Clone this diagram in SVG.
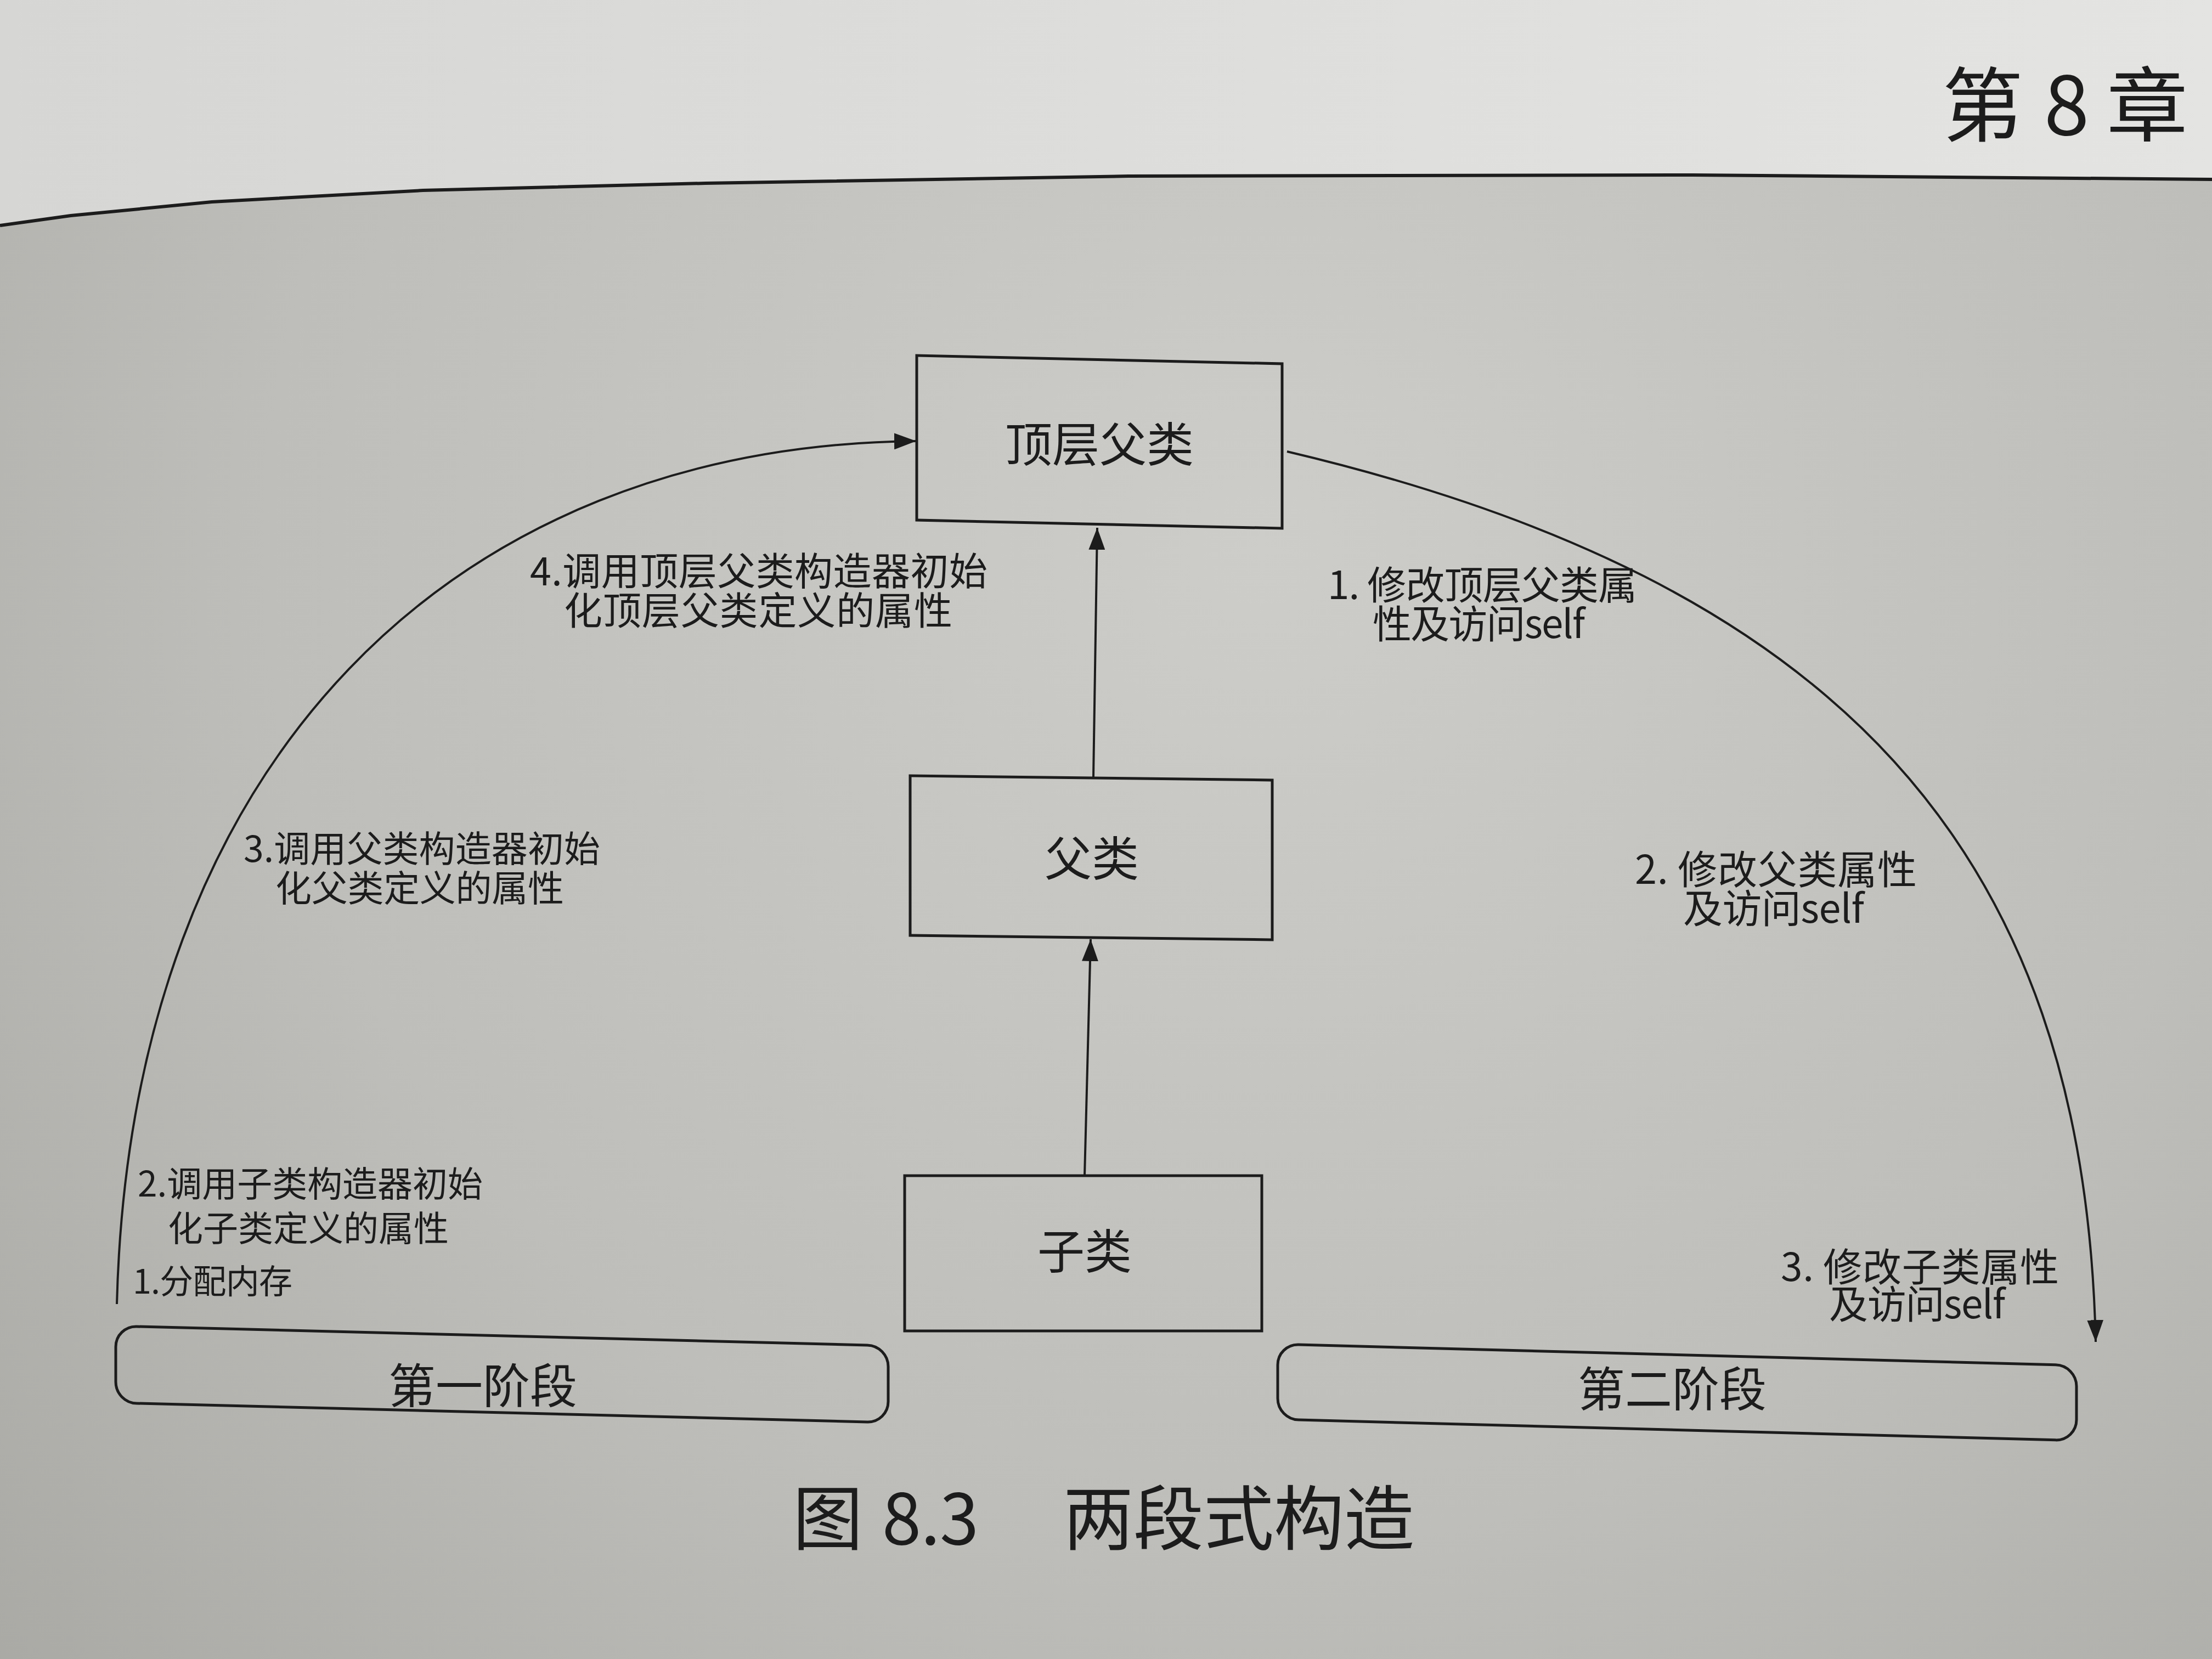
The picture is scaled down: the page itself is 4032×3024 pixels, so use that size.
<svg xmlns="http://www.w3.org/2000/svg" width="4032" height="3024" viewBox="0 0 4032 3024">
  <defs>
    <radialGradient id="paper" cx="2300" cy="1000" r="3300" gradientUnits="userSpaceOnUse">
      <stop offset="0" stop-color="#cdcdc9"/>
      <stop offset="0.55" stop-color="#bebeba"/>
      <stop offset="1" stop-color="#a6a6a1"/>
    </radialGradient>
    <linearGradient id="topPaper" x1="0" y1="0" x2="4032" y2="0" gradientUnits="userSpaceOnUse">
      <stop offset="0" stop-color="#d6d6d4"/>
      <stop offset="1" stop-color="#e4e4e2"/>
    </linearGradient>
    <marker id="arrow" viewBox="0 0 40 30" refX="40" refY="15" markerWidth="40" markerHeight="30" markerUnits="userSpaceOnUse" orient="auto">
      <path d="M0,0 L40,15 L0,30 Z" fill="#1c1c1c"/>
    </marker>
    <style>
      .ink { stroke: #1c1c1c; fill: none; }
      .box { stroke: #1c1c1c; stroke-width: 5; fill: none; }
      .stage { stroke: #1c1c1c; stroke-width: 5; fill: none; }
      .conn { stroke: #1c1c1c; stroke-width: 4; fill: none; }
      .t { font-family: "Noto Sans CJK SC", "Noto Sans", sans-serif; fill: #1c1c1c; }
      .node { font-size: 86px; text-anchor: middle; }
    </style>
  </defs>

  <!-- paper background -->
  <rect x="0" y="0" width="4032" height="3024" fill="url(#paper)"/>
  <path d="M0,0 H4032 V327 L3086,319 L2057,321 L1286,334 L771,347 L386,368 L129,393 L0,411 Z" fill="url(#topPaper)"/>
  <path d="M0,411 L129,393 L386,368 L771,347 L1286,334 L2057,321 L3086,319 L4032,327" class="ink" stroke-width="6"/>

  <!-- header -->
  <text class="t" x="3540" y="246" font-size="148"><tspan x="3540">第</tspan><tspan x="3726">8</tspan><tspan x="3840">章</tspan></text>

  <!-- connectors -->
  <g id="connectors">
    <line class="conn" x1="1977" y1="2143" x2="1988" y2="1712" marker-end="url(#arrow)"/>
    <line class="conn" x1="1993" y1="1416" x2="2000" y2="962" marker-end="url(#arrow)"/>
    <path class="conn" d="M213,2377 C238,1380 830,812 1670,804" marker-end="url(#arrow)"/>
    <path class="conn" d="M2346,823 C3350,1060 3800,1550 3820,2446" marker-end="url(#arrow)"/>
  </g>

  <!-- nodes -->
  <g id="node-top">
    <rect class="box" x="1671" y="648" width="666" height="300" transform="translate(1671,0) skewY(1.29) translate(-1671,0)"/>
    <text class="t node" x="2004" y="842">顶层父类</text>
  </g>
  <g id="node-parent">
    <rect class="box" x="1659" y="1414" width="660" height="291" transform="translate(1659,0) skewY(0.69) translate(-1659,0)"/>
    <text class="t node" x="1990" y="1597">父类</text>
  </g>
  <g id="node-child">
    <rect class="box" x="1649" y="2143" width="651" height="283"/>
    <text class="t node" x="1977" y="2313">子类</text>
  </g>
  <g id="stage-1">
    <rect class="stage" x="211" y="2417" width="1408" height="140" rx="38" ry="38" transform="translate(211,0) skewY(1.46) translate(-211,0)"/>
    <text class="t node" x="880" y="2558" font-size="88">第一阶段</text>
  </g>
  <g id="stage-2">
    <rect class="stage" x="2329" y="2450" width="1456" height="137" rx="38" ry="38" transform="translate(2329,0) skewY(1.53) translate(-2329,0)"/>
    <text class="t node" x="3048" y="2564" font-size="88">第二阶段</text>
  </g>

  <!-- labels -->
  <g id="labels">
    <text class="t" font-size="70"><tspan x="966" y="1067" textLength="834">4.调用顶层父类构造器初始</tspan><tspan x="1028" y="1139" textLength="708">化顶层父类定义的属性</tspan></text>
    <text class="t" font-size="66"><tspan x="444" y="1571" textLength="650">3.调用父类构造器初始</tspan><tspan x="502" y="1643" textLength="526">化父类定义的属性</tspan></text>
    <text class="t" font-size="64"><tspan x="251" y="2181" textLength="629">2.调用子类构造器初始</tspan><tspan x="306" y="2262" textLength="512">化子类定义的属性</tspan></text>
    <text class="t" font-size="61" x="242" y="2358" textLength="291">1.分配内存</text>
    <text class="t" font-size="71"><tspan x="2420" y="1092" textLength="564">1. 修改顶层父类属</tspan><tspan x="2502" y="1163" textLength="387">性及访问self</tspan></text>
    <text class="t" font-size="72"><tspan x="2980" y="1611" textLength="514">2. 修改父类属性</tspan><tspan x="3068" y="1682" textLength="330">及访问self</tspan></text>
    <text class="t" font-size="71"><tspan x="3246" y="2335" textLength="507">3. 修改子类属性</tspan><tspan x="3334" y="2403" textLength="321">及访问self</tspan></text>
  </g>

  <!-- caption -->
  <text class="t" y="2815" font-size="128"><tspan x="1445">图</tspan><tspan x="1608" textLength="176">8.3</tspan><tspan x="1938" textLength="640">两段式构造</tspan></text>
</svg>
